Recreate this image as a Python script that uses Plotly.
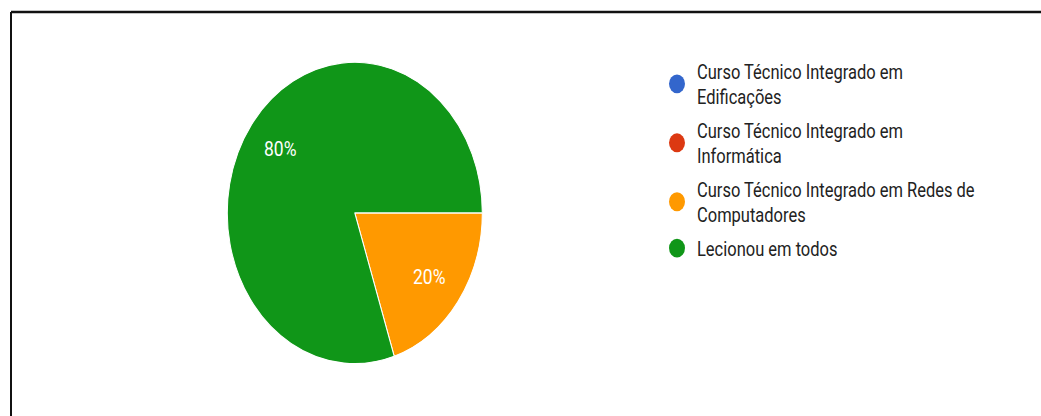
import math
import plotly.graph_objects as go

# Course categories and the share of teachers for each
categories = [
    "Curso Técnico Integrado em<br>Edificações",
    "Curso Técnico Integrado em<br>Informática",
    "Curso Técnico Integrado em Redes de<br>Computadores",
    "Lecionou em todos",
]
values = [0, 0, 1, 4]
colors = ["#3366CC", "#DC3912", "#FF9900", "#109618"]

W, H = 1041, 352          # drawing size before the vertical stretch
STRETCH_Y = 416 / H       # page is scaled vertically to fill 416 px

FONT = "Roboto, Arial, sans-serif"

# Pie placement (pixels in the unstretched drawing)
CX, CY, R = 354.8, 180.2, 127.5
START = 90.0              # first slice starts at 3 o'clock, clockwise
LABEL_R = 0.72 * R

fig = go.Figure()

fig.add_trace(go.Pie(
    labels=categories,
    values=values,
    sort=False,
    direction="clockwise",
    rotation=START,
    marker=dict(colors=colors, line=dict(color="white", width=1)),
    textinfo="none",
    hoverinfo="label+percent",
    showlegend=False,
    domain=dict(x=[(CX - R) / W, (CX + R) / W],
                y=[(H - CY - R) / H, (H - CY + R) / H]),
))

# Percentage labels placed along each slice's bisector
total = sum(values)
acc = 0.0
for v in values:
    if v > 0:
        mid = math.radians(START + 360.0 * (acc + v / 2) / total)
        fig.add_annotation(
            x=(CX + LABEL_R * math.sin(mid)) / W,
            y=(H - CY + LABEL_R * math.cos(mid)) / H,
            xref="paper", yref="paper", showarrow=False,
            xanchor="center", yanchor="middle",
            text=f"{round(100 * v / total)}%",
            font=dict(family=FONT, size=17.5, color="white"),
        )
    acc += v

# Legend entries with round markers, one per category
for i, (name, col) in enumerate(zip(categories, colors)):
    fig.add_trace(go.Scatter(
        x=[None], y=[None], mode="markers", name=name,
        legendgroup=f"g{i}",
        marker=dict(symbol="circle", size=16, color=col),
        showlegend=True,
    ))

fig.update_layout(
    width=W, height=H,
    margin=dict(l=0, r=0, t=0, b=0),
    paper_bgcolor="white",
    plot_bgcolor="white",
    xaxis=dict(visible=False),
    yaxis=dict(visible=False),
    legend=dict(
        x=657 / W, y=1 - 43 / H, xanchor="left", yanchor="top",
        font=dict(family=FONT, size=16.5, color="#222222"),
        bgcolor="rgba(0,0,0,0)",
        traceorder="grouped",
        tracegroupgap=4,
    ),
    shapes=[
        # frame: top and left edges
        dict(type="line", xref="paper", yref="paper",
             x0=11 / W, x1=1, y0=1 - 10.2 / H, y1=1 - 10.2 / H,
             line=dict(color="#111111", width=2)),
        dict(type="line", xref="paper", yref="paper",
             x0=11 / W, x1=11 / W, y0=0, y1=1 - 10.2 / H,
             line=dict(color="#111111", width=2)),
    ],
)

post = (
    "document.body.style.margin='0';"
    "var d=document.getElementById('{plot_id}');"
    "d.style.transformOrigin='0 0';"
    "d.style.transform='scaleY(%.5f)';" % STRETCH_Y
)

fig.write_html("out.html", post_script=post, config={"displayModeBar": False})
